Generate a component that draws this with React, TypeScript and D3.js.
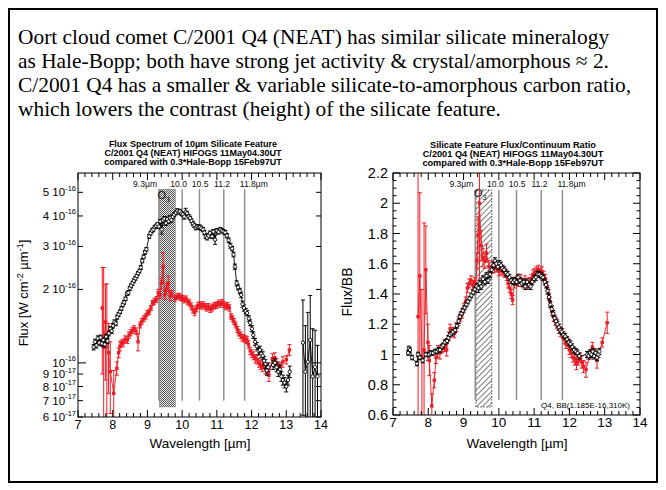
import React from "react";
import * as d3 from "d3";

// ---------- text ----------
const headline = [
  "Oort cloud comet C/2001 Q4 (NEAT) has similar silicate mineralogy",
  "as Hale-Bopp; both have strong jet activity & crystal/amorphous \u2248 2.",
  "C/2001 Q4 has a smaller & variable silicate-to-amorphous carbon ratio,",
  "which lowers the contrast (height) of the silicate feature.",
];
const fluxTitle = [
  "Flux Spectrum of 10\u00b5m Silicate Feature",
  "C/2001 Q4 (NEAT)  HIFOGS 11May04.30UT",
  "compared with 0.3*Hale-Bopp 15Feb97UT",
];
const ratioTitle = [
  "Silicate Feature Flux/Continuum Ratio",
  "C/2001 Q4 (NEAT)  HIFOGS 11May04.30UT",
  "compared with 0.3*Hale-Bopp 15Feb97UT",
];
const bbNote = "Q4, BB(1.185E-16,310K)";

// ---------- reference wavelengths ----------
const featureLines = [9.33, 10.0, 10.5, 11.2, 11.8];
const ozoneBand = [9.35, 9.8];
const featureLabels: [string, number, string][] = [
  ["9.3\u00b5m", 9.28, "end"],
  ["10.0", 9.9, "middle"],
  ["10.5", 10.52, "middle"],
  ["11.2", 11.15, "middle"],
  ["11.8\u00b5m", 11.66, "start"],
];
const xTicks = d3.range(0, 36).map((i) => +(7 + i * 0.2).toFixed(1));
const xTickLabels = [7, 8, 9, 10, 11, 12, 13, 14];
const fluxTicks = [0.6, 0.7, 0.8, 0.9, 1, 2, 3, 4, 5]; // units of 1e-16
const ratioTicks = [0.6, 0.8, 1, 1.2, 1.4, 1.6, 1.8, 2, 2.2];

// ---------- spectra: [wavelength µm, value, 1-sigma] ----------
// C/2001 Q4 flux, 1e-16 W cm^-2 µm^-1
const q4Flux: [number, number, number][] = [
  [7.45, 1.16, 0.03], [7.49, 1.22, 0.03], [7.53, 1.18, 0.03], [7.57, 1.26, 0.03],
  [7.61, 1.21, 0.03], [7.65, 1.27, 0.03], [7.69, 1.2, 0.03], [7.73, 1.24, 0.03],
  [7.77, 1.19, 0.03], [7.81, 1.28, 0.03], [7.85, 1.23, 0.03], [7.89, 1.32, 0.03],
  [7.93, 1.38, 0.03], [7.97, 1.35, 0.03], [8.01, 1.42, 0.03], [8.05, 1.47, 0.03],
  [8.09, 1.45, 0.03], [8.13, 1.54, 0.03], [8.17, 1.58, 0.03], [8.21, 1.62, 0.03],
  [8.25, 1.67, 0.03], [8.29, 1.73, 0.03], [8.33, 1.77, 0.03], [8.37, 1.83, 0.03],
  [8.41, 1.92, 0.03], [8.45, 1.94, 0.04], [8.49, 2.02, 0.04], [8.53, 2.07, 0.04],
  [8.57, 2.12, 0.04], [8.61, 2.17, 0.04], [8.65, 2.22, 0.04], [8.69, 2.27, 0.04],
  [8.73, 2.33, 0.04], [8.77, 2.38, 0.04], [8.81, 2.46, 0.05], [8.85, 2.62, 0.05],
  [8.89, 2.72, 0.05], [8.93, 2.84, 0.05], [8.97, 2.92, 0.05], [9.05, 3.3, 0.06],
  [9.09, 3.4, 0.06], [9.13, 3.48, 0.06], [9.17, 3.52, 0.06], [9.21, 3.6, 0.06],
  [9.25, 3.64, 0.06], [9.29, 3.7, 0.06], [9.33, 3.62, 0.06], [9.37, 3.8, 0.07],
  [9.41, 3.52, 0.15], [9.45, 3.84, 0.08], [9.49, 3.9, 0.08], [9.53, 3.74, 0.08],
  [9.57, 3.88, 0.08], [9.61, 3.8, 0.08], [9.65, 3.93, 0.08], [9.69, 3.85, 0.08],
  [9.73, 3.97, 0.08], [9.77, 4.05, 0.08], [9.82, 4.12, 0.08], [9.86, 4.2, 0.08],
  [9.9, 4.15, 0.08], [9.94, 4.18, 0.08], [9.98, 4.1, 0.08], [10.02, 4.06, 0.08],
  [10.06, 3.98, 0.1], [10.1, 4.15, 0.15], [10.14, 4.1, 0.08], [10.19, 3.98, 0.08],
  [10.23, 3.92, 0.07], [10.27, 3.82, 0.07], [10.31, 3.72, 0.07], [10.35, 3.66, 0.07],
  [10.39, 3.58, 0.07], [10.43, 3.62, 0.07], [10.47, 3.6, 0.07], [10.51, 3.6, 0.07],
  [10.55, 3.56, 0.07], [10.6, 3.52, 0.07], [10.64, 3.42, 0.07], [10.68, 3.3, 0.07],
  [10.72, 3.26, 0.07], [10.76, 3.32, 0.07], [10.8, 3.4, 0.07], [10.86, 3.3, 0.07],
  [10.9, 3.45, 0.07], [10.95, 3.2, 0.14], [11.0, 3.48, 0.07], [11.05, 3.44, 0.07],
  [11.1, 3.52, 0.07], [11.14, 3.48, 0.07], [11.19, 3.45, 0.07], [11.24, 3.42, 0.07],
  [11.29, 3.32, 0.07], [11.34, 3.18, 0.07], [11.39, 3.02, 0.07], [11.44, 2.94, 0.06],
  [11.48, 2.78, 0.06], [11.52, 2.48, 0.06], [11.57, 2.12, 0.05], [11.61, 2.04, 0.05],
  [11.66, 1.97, 0.05], [11.7, 1.9, 0.05], [11.74, 1.74, 0.05], [11.78, 1.68, 0.05],
  [11.83, 1.63, 0.04], [11.87, 1.6, 0.04], [11.92, 1.52, 0.04], [11.96, 1.46, 0.04],
  [12.01, 1.38, 0.04], [12.05, 1.3, 0.04], [12.1, 1.22, 0.04], [12.15, 1.17, 0.04],
  [12.2, 1.12, 0.04], [12.24, 1.13, 0.04], [12.28, 1.09, 0.04], [12.32, 1.07, 0.04],
  [12.36, 1.02, 0.04], [12.4, 0.99, 0.04], [12.44, 0.93, 0.04], [12.48, 0.96, 0.04],
  [12.62, 0.98, 0.04], [12.67, 1.0, 0.04], [12.72, 0.96, 0.04], [12.77, 0.92, 0.04],
  [12.82, 0.94, 0.04], [12.86, 0.88, 0.04], [12.9, 0.85, 0.04], [12.95, 0.83, 0.04],
  [13.0, 0.8, 0.04], [13.05, 0.85, 0.04], [13.1, 0.92, 0.05],
  [13.48, 1.21, 0.6], [13.55, 0.92, 0.5], [13.62, 1.01, 0.6], [13.69, 1.24, 0.65],
  [13.76, 0.88, 0.5], [13.83, 0.96, 0.4], [13.9, 0.88, 0.3],
];

// 0.3 x Hale-Bopp flux, 1e-16 W cm^-2 µm^-1
const hbFlux: [number, number, number][] = [
  [7.7, 1.68, 0.78], [7.74, 1.16, 1.3], [7.79, 1.47, 0.62], [7.83, 1.21, 0.9],
  [7.88, 1.1, 0.35], [7.93, 0.92, 0.3], [8.03, 0.75, 0.18], [8.12, 0.95, 0.06],
  [8.17, 1.1, 0.05], [8.21, 1.17, 0.05], [8.25, 1.2, 0.04], [8.3, 1.21, 0.04],
  [8.36, 1.25, 0.04], [8.42, 1.24, 0.04], [8.47, 1.3, 0.04], [8.52, 1.33, 0.04],
  [8.57, 1.36, 0.04], [8.62, 1.38, 0.04], [8.67, 1.35, 0.04], [8.73, 1.22, 0.1],
  [8.79, 1.43, 0.04], [8.84, 1.48, 0.04], [8.9, 1.52, 0.04], [8.95, 1.55, 0.04],
  [9.0, 1.6, 0.04], [9.05, 1.62, 0.04], [9.1, 1.68, 0.04], [9.15, 1.76, 0.04],
  [9.2, 1.79, 0.05], [9.26, 1.82, 0.05], [9.31, 1.94, 0.06], [9.36, 1.9, 0.06],
  [9.4, 2.12, 0.1], [9.45, 2.48, 0.35], [9.5, 1.9, 0.08], [9.55, 2.02, 0.1],
  [9.6, 2.12, 0.15], [9.65, 1.88, 0.08], [9.7, 1.92, 0.06], [9.8, 1.84, 0.05],
  [9.86, 1.87, 0.05], [9.91, 1.88, 0.05], [9.96, 1.85, 0.05], [10.01, 1.84, 0.05],
  [10.06, 1.81, 0.05], [10.11, 1.83, 0.05], [10.16, 1.78, 0.05], [10.21, 1.76, 0.05],
  [10.26, 1.71, 0.05], [10.31, 1.65, 0.05], [10.36, 1.61, 0.05], [10.41, 1.67, 0.05],
  [10.46, 1.72, 0.05], [10.51, 1.73, 0.05], [10.56, 1.71, 0.05], [10.61, 1.73, 0.05],
  [10.66, 1.7, 0.05], [10.71, 1.68, 0.05], [10.76, 1.7, 0.05], [10.81, 1.66, 0.05],
  [10.86, 1.68, 0.05], [10.91, 1.71, 0.05], [10.96, 1.72, 0.05], [11.01, 1.73, 0.05],
  [11.06, 1.76, 0.05], [11.11, 1.74, 0.05], [11.16, 1.77, 0.05], [11.21, 1.73, 0.05],
  [11.26, 1.7, 0.05], [11.31, 1.72, 0.05], [11.36, 1.68, 0.05], [11.41, 1.55, 0.04],
  [11.45, 1.52, 0.04], [11.49, 1.48, 0.04], [11.54, 1.43, 0.04], [11.59, 1.37, 0.04],
  [11.63, 1.33, 0.04], [11.68, 1.3, 0.04], [11.73, 1.27, 0.04], [11.78, 1.26, 0.04],
  [11.83, 1.25, 0.04], [11.87, 1.24, 0.04], [11.91, 1.19, 0.04], [11.96, 1.12, 0.04],
  [12.01, 1.09, 0.04], [12.06, 1.07, 0.04], [12.11, 1.04, 0.04], [12.16, 1.03, 0.04],
  [12.21, 1.0, 0.04], [12.26, 0.98, 0.04], [12.31, 0.96, 0.04], [12.35, 1.0, 0.04],
  [12.4, 0.94, 0.04], [12.45, 0.95, 0.04], [12.5, 0.89, 0.05], [12.6, 1.04, 0.05],
  [12.67, 1.05, 0.05], [12.72, 1.0, 0.04], [12.77, 0.97, 0.04], [12.82, 0.96, 0.04],
  [12.9, 1.01, 0.05], [13.0, 1.03, 0.04], [13.09, 1.13, 0.06],
];

// C/2001 Q4 flux / blackbody
const q4Ratio: [number, number, number][] = [
  [7.43, 1.01, 0.015], [7.45, 1.04, 0.015], [7.48, 1.03, 0.015], [7.54, 0.98, 0.015],
  [7.68, 0.94, 0.015], [7.71, 1.0, 0.015], [7.76, 0.98, 0.015], [7.84, 0.96, 0.015],
  [7.93, 1.0, 0.015], [8.02, 1.0, 0.015], [8.07, 1.01, 0.015], [8.13, 1.01, 0.015],
  [8.19, 1.02, 0.015], [8.24, 1.02, 0.015], [8.29, 1.03, 0.015], [8.33, 1.03, 0.015],
  [8.38, 1.05, 0.015], [8.42, 1.06, 0.015], [8.47, 1.08, 0.015], [8.53, 1.09, 0.015],
  [8.57, 1.11, 0.015], [8.61, 1.13, 0.015], [8.66, 1.14, 0.015], [8.7, 1.15, 0.015],
  [8.76, 1.16, 0.015], [8.81, 1.19, 0.015], [8.86, 1.22, 0.015], [8.9, 1.25, 0.015],
  [8.94, 1.27, 0.015], [8.98, 1.29, 0.015], [9.03, 1.31, 0.015], [9.08, 1.33, 0.015],
  [9.12, 1.35, 0.015], [9.17, 1.37, 0.015], [9.22, 1.39, 0.015], [9.27, 1.41, 0.015],
  [9.32, 1.43, 0.015], [9.37, 1.45, 0.02], [9.42, 1.44, 0.03], [9.46, 1.47, 0.02],
  [9.5, 1.45, 0.02], [9.55, 1.5, 0.02], [9.6, 1.48, 0.02], [9.65, 1.52, 0.02],
  [9.7, 1.49, 0.02], [9.75, 1.53, 0.02], [9.8, 1.56, 0.02], [9.85, 1.59, 0.02],
  [9.89, 1.62, 0.02], [9.93, 1.6, 0.02], [9.97, 1.58, 0.02], [10.02, 1.6, 0.02],
  [10.06, 1.59, 0.02], [10.1, 1.57, 0.02], [10.15, 1.56, 0.02], [10.2, 1.54, 0.02],
  [10.25, 1.53, 0.02], [10.3, 1.51, 0.02], [10.35, 1.49, 0.02], [10.4, 1.48, 0.02],
  [10.45, 1.49, 0.02], [10.5, 1.48, 0.02], [10.55, 1.51, 0.02], [10.6, 1.49, 0.02],
  [10.65, 1.47, 0.02], [10.7, 1.48, 0.02], [10.75, 1.45, 0.02], [10.8, 1.48, 0.02],
  [10.85, 1.46, 0.02], [10.9, 1.45, 0.02], [10.95, 1.48, 0.02], [11.0, 1.5, 0.02],
  [11.05, 1.51, 0.02], [11.1, 1.53, 0.02], [11.15, 1.53, 0.02], [11.2, 1.52, 0.02],
  [11.25, 1.51, 0.02], [11.3, 1.48, 0.02], [11.34, 1.46, 0.02], [11.38, 1.42, 0.02],
  [11.42, 1.38, 0.02], [11.46, 1.33, 0.02], [11.5, 1.3, 0.02], [11.54, 1.27, 0.02],
  [11.58, 1.24, 0.02], [11.62, 1.22, 0.02], [11.66, 1.2, 0.02], [11.7, 1.18, 0.02],
  [11.74, 1.16, 0.02], [11.78, 1.15, 0.02], [11.83, 1.13, 0.02], [11.88, 1.12, 0.02],
  [11.93, 1.1, 0.02], [11.98, 1.08, 0.02], [12.03, 1.07, 0.02], [12.08, 1.05, 0.02],
  [12.13, 1.03, 0.02], [12.18, 1.02, 0.02], [12.23, 1.01, 0.02], [12.28, 0.99, 0.02],
  [12.5, 1.0, 0.02], [12.54, 0.99, 0.02], [12.58, 1.01, 0.02], [12.62, 1.0, 0.02],
  [12.66, 1.02, 0.02], [12.7, 0.99, 0.02], [12.74, 1.01, 0.02], [12.78, 0.98, 0.02],
  [12.82, 1.0, 0.02], [12.85, 1.02, 0.02],
];

// 0.3 x Hale-Bopp flux / blackbody
const hbRatio: [number, number, number][] = [
  [7.71, 1.25, 1.0], [7.76, 1.52, 0.55], [7.82, 0.98, 0.45], [7.88, 1.03, 0.84],
  [7.93, 1.56, 0.29], [7.99, 1.08, 0.12], [8.03, 0.96, 0.1], [8.1, 0.66, 0.08],
  [8.17, 0.83, 0.05], [8.22, 0.98, 0.04], [8.27, 1.02, 0.04], [8.33, 1.01, 0.04],
  [8.4, 1.04, 0.03], [8.46, 1.06, 0.04], [8.52, 1.03, 0.04], [8.58, 1.12, 0.03],
  [8.62, 1.17, 0.03], [8.68, 1.15, 0.03], [8.74, 1.14, 0.03], [8.8, 1.18, 0.03],
  [8.86, 1.22, 0.03], [8.91, 1.25, 0.03], [8.96, 1.27, 0.03], [9.01, 1.31, 0.03],
  [9.06, 1.35, 0.03], [9.11, 1.44, 0.03], [9.16, 1.47, 0.03], [9.21, 1.49, 0.03],
  [9.26, 1.46, 0.03], [9.31, 1.48, 0.03], [9.35, 1.44, 0.03], [9.38, 1.62, 0.05],
  [9.41, 1.79, 0.12], [9.45, 2.0, 0.5], [9.5, 1.72, 0.1], [9.55, 1.64, 0.06],
  [9.6, 1.62, 0.05], [9.65, 1.67, 0.06], [9.72, 1.58, 0.04], [9.83, 1.59, 0.03],
  [9.88, 1.57, 0.03], [9.94, 1.58, 0.03], [10.0, 1.55, 0.03], [10.06, 1.56, 0.03],
  [10.12, 1.55, 0.03], [10.17, 1.54, 0.03], [10.22, 1.52, 0.03], [10.26, 1.47, 0.03],
  [10.31, 1.44, 0.03], [10.35, 1.4, 0.03], [10.39, 1.36, 0.03], [10.44, 1.47, 0.03],
  [10.5, 1.49, 0.03], [10.56, 1.48, 0.03], [10.62, 1.5, 0.03], [10.68, 1.47, 0.03],
  [10.74, 1.49, 0.03], [10.8, 1.46, 0.03], [10.86, 1.48, 0.03], [10.92, 1.5, 0.03],
  [10.97, 1.53, 0.03], [11.02, 1.54, 0.03], [11.07, 1.55, 0.03], [11.12, 1.56, 0.03],
  [11.17, 1.54, 0.03], [11.22, 1.55, 0.03], [11.27, 1.52, 0.03], [11.32, 1.5, 0.03],
  [11.37, 1.45, 0.03], [11.41, 1.4, 0.03], [11.45, 1.35, 0.03], [11.5, 1.29, 0.03],
  [11.55, 1.25, 0.03], [11.6, 1.22, 0.03], [11.65, 1.2, 0.03], [11.7, 1.17, 0.03],
  [11.75, 1.15, 0.03], [11.8, 1.14, 0.03], [11.85, 1.1, 0.03], [11.9, 1.07, 0.03],
  [11.95, 1.08, 0.03], [12.0, 1.03, 0.03], [12.05, 1.01, 0.03], [12.1, 0.98, 0.03],
  [12.15, 0.97, 0.04], [12.2, 0.94, 0.04], [12.25, 0.96, 0.03], [12.3, 0.98, 0.03],
  [12.35, 0.95, 0.04], [12.4, 0.92, 0.04], [12.47, 0.9, 0.05], [12.6, 1.0, 0.03],
  [12.65, 1.05, 0.03], [12.72, 1.01, 0.03], [12.78, 0.96, 0.05], [12.93, 1.08, 0.03],
  [13.07, 1.21, 0.07],
];

// extent of the marker lines and ozone band, in data units
const fluxMarkTop = 5.15, fluxMarkBottom = 0.7, fluxBandBottom = 0.66;
const ratioMarkTop = 2.088, ratioMarkBottom = 0.7, ratioBandBottom = 0.653;

const RED = "#ec1c24";
const SANS = "'Liberation Sans', Arial, Helvetica, sans-serif";

type Pt = [number, number, number];
type Scale = (v: number) => number;

// split a spectrum wherever the wavelength sampling has a large gap
function segments(data: Pt[]): Pt[][] {
  const out: Pt[][] = [];
  let cur: Pt[] = [];
  data.forEach((d, i) => {
    if (i > 0 && d[0] - data[i - 1][0] > 0.3) {
      out.push(cur);
      cur = [];
    }
    cur.push(d);
  });
  if (cur.length) out.push(cur);
  return out;
}

function Series({ data, x, y, floor, color, marker }: {
  data: Pt[]; x: Scale; y: Scale; floor: number; color: string; marker: "circle" | "square";
}) {
  const line = d3.line<Pt>().x((d) => x(d[0])).y((d) => y(d[1]));
  return (
    <g>
      {segments(data).map((s, i) => (
        <path key={i} d={line(s) || ""} fill="none" stroke={color} strokeWidth={0.9} />
      ))}
      {data.map((d, i) => {
        const cx = x(d[0]);
        const hi = y(d[1] + d[2]);
        const lo = y(Math.max(d[1] - d[2], floor));
        return (
          <g key={i} stroke={color} strokeWidth={1}>
            <line x1={cx} x2={cx} y1={hi} y2={lo} />
            <line x1={cx - 2} x2={cx + 2} y1={hi} y2={hi} />
            <line x1={cx - 2} x2={cx + 2} y1={lo} y2={lo} />
          </g>
        );
      })}
      {data.map((d, i) =>
        marker === "circle" ? (
          <circle key={i} cx={x(d[0])} cy={y(d[1])} r={1.7} fill="#fff" stroke={color} strokeWidth={0.9} />
        ) : (
          <rect key={i} x={x(d[0]) - 1.7} y={y(d[1]) - 1.7} width={3.4} height={3.4} fill={color} />
        )
      )}
    </g>
  );
}

function XAxis({ x, top, bottom, fontSize }: { x: Scale; top: number; bottom: number; fontSize: number }) {
  return (
    <g stroke="#000" strokeWidth={1}>
      {xTicks.map((t) => {
        const major = Number.isInteger(t);
        const len = major ? 7 : 4;
        return (
          <g key={t}>
            <line x1={x(t)} x2={x(t)} y1={bottom} y2={bottom - len} />
            <line x1={x(t)} x2={x(t)} y1={top} y2={top + len} />
          </g>
        );
      })}
      {xTickLabels.map((t) => (
        <text key={t} x={x(t)} y={bottom + 12} textAnchor="middle" fontSize={fontSize} stroke="none" fill="#000">
          {t}
        </text>
      ))}
    </g>
  );
}

function Markers({ x, y, markTop, markBottom, bandBottom, pattern, dashed, labelY, ozoneY }: {
  x: Scale; y: Scale; markTop: number; markBottom: number; bandBottom: number;
  pattern: string; dashed: boolean; labelY: number; ozoneY: number;
}) {
  const bx0 = x(ozoneBand[0]);
  const bx1 = x(ozoneBand[1]);
  return (
    <g>
      <rect
        x={bx0} y={y(markTop)} width={bx1 - bx0} height={y(bandBottom) - y(markTop)}
        fill={`url(#${pattern})`}
        stroke={dashed ? "#222" : "#777"} strokeWidth={dashed ? 0.8 : 0.6}
        strokeDasharray={dashed ? "1.5,1.5" : undefined}
      />
      {featureLines.map((w) => (
        <line key={w} x1={x(w)} x2={x(w)} y1={y(markTop)} y2={y(markBottom)} stroke="#8a8a8a" strokeWidth={1.4} />
      ))}
      {featureLabels.map(([t, w, a]) => (
        <text key={t} x={x(w)} y={labelY} textAnchor={a as any} fontSize={8.6} fill="#111">
          {t}
        </text>
      ))}
      <text x={x(9.47)} y={ozoneY} fontSize={11} textAnchor="middle" fill="#111">
        O<tspan fontSize={7} dy={3}>3</tspan>
      </text>
    </g>
  );
}

function FluxPanel() {
  const x0 = 78, x1 = 321, top = 173, bottom = 417;
  const x = d3.scaleLinear().domain([7, 14]).range([x0, x1]);
  const y = d3.scaleLog().domain([0.6, 6.0]).range([bottom, top]);
  return (
    <g fontFamily={SANS}>
      {fluxTitle.map((t, i) => (
        <text key={i} x={193} y={147 + i * 9} textAnchor="middle" fontSize={9} fontWeight="bold">{t}</text>
      ))}
      <g clipPath="url(#clipFlux)">
        <Markers x={x} y={y} markTop={fluxMarkTop} markBottom={fluxMarkBottom} bandBottom={fluxBandBottom}
          pattern="stipple" dashed={false} labelY={187} ozoneY={199} />
        <Series data={hbFlux} x={x} y={y} floor={0.3} color={RED} marker="square" />
        <Series data={q4Flux} x={x} y={y} floor={0.3} color="#000" marker="circle" />
      </g>
      <rect x={x0} y={top} width={x1 - x0} height={bottom - top} fill="none" stroke="#000" strokeWidth={1} />
      <XAxis x={x} top={top} bottom={bottom} fontSize={12.5} />
      {fluxTicks.map((v) => {
        const yy = y(v);
        const len = v === 1 ? 8 : 5;
        const mant = v < 1 ? Math.round(v * 10) : v;
        const exp = v < 1 ? "-17" : "-16";
        return (
          <g key={v}>
            <line x1={x0} x2={x0 + len} y1={yy} y2={yy} stroke="#000" />
            <line x1={x1} x2={x1 - len} y1={yy} y2={yy} stroke="#000" />
            <text x={76} y={yy + 4} textAnchor="end" fontSize={11.5}>
              {v === 1 ? "10" : `${mant} 10`}
              <tspan fontSize={7.5} dy={-5.5}>{exp}</tspan>
            </text>
          </g>
        );
      })}
      <text transform={`translate(28,293) rotate(-90)`} textAnchor="middle" fontSize={13}>
        Flux [W cm<tspan fontSize={9} dy={-5}>-2</tspan>
        <tspan dy={5}> {"\u00b5"}m</tspan>
        <tspan fontSize={9} dy={-5}>-1</tspan>
        <tspan dy={5}>]</tspan>
      </text>
      <text x={200} y={448} textAnchor="middle" fontSize={13.5}>Wavelength [{"\u00b5"}m]</text>
    </g>
  );
}

function RatioPanel() {
  const x0 = 393, x1 = 640, top = 173, bottom = 415;
  const x = d3.scaleLinear().domain([7, 14]).range([x0, x1]);
  const y = d3.scaleLinear().domain([0.6, 2.2]).range([bottom, top]);
  const minor = d3.range(0, 33).map((i) => +(0.6 + i * 0.05).toFixed(2));
  const fmt = d3.format("~g");
  return (
    <g fontFamily={SANS}>
      {ratioTitle.map((t, i) => (
        <text key={i} x={513} y={147.5 + i * 9.2} textAnchor="middle" fontSize={9.2} fontWeight="bold">{t}</text>
      ))}
      <g clipPath="url(#clipRatio)">
        <Markers x={x} y={y} markTop={ratioMarkTop} markBottom={ratioMarkBottom} bandBottom={ratioBandBottom}
          pattern="hatch" dashed={true} labelY={187} ozoneY={197} />
        <Series data={hbRatio} x={x} y={y} floor={0} color={RED} marker="square" />
        <Series data={q4Ratio} x={x} y={y} floor={0} color="#000" marker="circle" />
      </g>
      <rect x={x0} y={top} width={x1 - x0} height={bottom - top} fill="none" stroke="#000" strokeWidth={1} />
      <XAxis x={x} top={top} bottom={bottom} fontSize={13.5} />
      {minor.map((v) => {
        const major = Math.abs(v * 5 - Math.round(v * 5)) < 1e-6;
        const len = major ? 7 : 3.5;
        return (
          <g key={v} stroke="#000">
            <line x1={x0} x2={x0 + len} y1={y(v)} y2={y(v)} />
            <line x1={x1} x2={x1 - len} y1={y(v)} y2={y(v)} />
          </g>
        );
      })}
      {ratioTicks.map((v) => (
        <text key={v} x={388} y={y(v) + 5} textAnchor="end" fontSize={14.5}>{fmt(v)}</text>
      ))}
      <text transform={`translate(352,292) rotate(-90)`} textAnchor="middle" fontSize={14}>Flux/BB</text>
      <text x={517} y={448} textAnchor="middle" fontSize={13.5}>Wavelength [{"\u00b5"}m]</text>
      <text x={630} y={408} textAnchor="end" fontSize={8}>{bbNote}</text>
    </g>
  );
}

export default function App() {
  return (
    <svg width={666} height={490} style={{ position: "absolute", left: 0, top: 0, background: "#fff" }}>
      <defs>
        <pattern id="stipple" width={2} height={2} patternUnits="userSpaceOnUse">
          <rect width={2} height={2} fill="#ececec" />
          <rect width={1} height={1} fill="#555" />
          <rect x={1} y={1} width={1} height={1} fill="#555" />
        </pattern>
        <pattern id="hatch" width={4} height={4} patternUnits="userSpaceOnUse" patternTransform="rotate(45)">
          <rect width={4} height={4} fill="#fff" />
          <line x1={0} y1={0} x2={0} y2={4} stroke="#333" strokeWidth={1.3} />
        </pattern>
        <clipPath id="clipFlux"><rect x={78} y={173} width={243} height={244} /></clipPath>
        <clipPath id="clipRatio"><rect x={393} y={173} width={247} height={242} /></clipPath>
      </defs>
      <rect width={666} height={490} fill="#fff" />
      <rect x={9} y={9} width={648} height={473} fill="none" stroke="#000" strokeWidth={2} />
      {headline.map((t, i) => (
        <text key={i} x={18} y={44 + i * 24} fontSize={21.4} fontFamily="'Liberation Serif', 'Times New Roman', serif">
          {t}
        </text>
      ))}
      <FluxPanel />
      <RatioPanel />
    </svg>
  );
}
